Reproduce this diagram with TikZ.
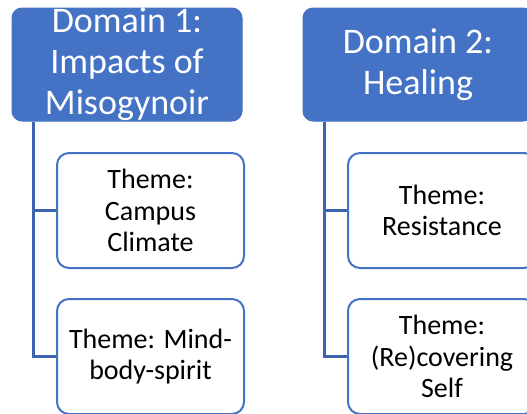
\documentclass[tikz,border=0pt]{standalone}
\usepackage{fontspec}
\setmainfont{Carlito}
\definecolor{boxblue}{HTML}{4472C4}
\definecolor{connblue}{HTML}{3D64AD}
\begin{document}
\begin{tikzpicture}[x=1pt,y=-1pt,
  domainbox/.style={draw=boxblue,fill=boxblue,rounded corners=10pt,line width=1pt,
    minimum width=230pt,minimum height=113pt,inner sep=0pt,align=center,text=white,
    font=\fontsize{36}{41}\selectfont},
  themebox/.style={draw=boxblue,fill=white,rounded corners=12pt,line width=2pt,
    minimum width=187pt,minimum height=115pt,inner sep=0pt,align=center,text=black,
    font=\fontsize{28}{31.5}\selectfont},
  conn/.style={draw=connblue,line width=2.5pt}]
\clip (0,0) rectangle (527,413);
\fill[white] (0,0) rectangle (527,413);
\node[domainbox] (d1) at (127,64.5) {Domain 1:\\Impacts of\\Misogynoir};
\node[domainbox] (d2) at (418,64.5) {Domain 2:\\Healing};
\node[themebox] (t1) at (150.5,210.5) {Theme:\\Campus\\Climate};
\node[themebox] (t2) at (150.5,356.5) {Theme: Mind-\\body-spirit};
\node[themebox,minimum width=188pt] (t3) at (442,210.5) {Theme:\\Resistance};
\node[themebox,minimum width=188pt] (t4) at (442,356.5) {Theme:\\(Re)covering\\Self};
\draw[conn] ([xshift=22pt]d1.south west) |- (t1.west);
\draw[conn] ([xshift=22pt]d1.south west) |- (t2.west);
\draw[conn] ([xshift=22pt]d2.south west) |- (t3.west);
\draw[conn] ([xshift=22pt]d2.south west) |- (t4.west);
\end{tikzpicture}
\end{document}
